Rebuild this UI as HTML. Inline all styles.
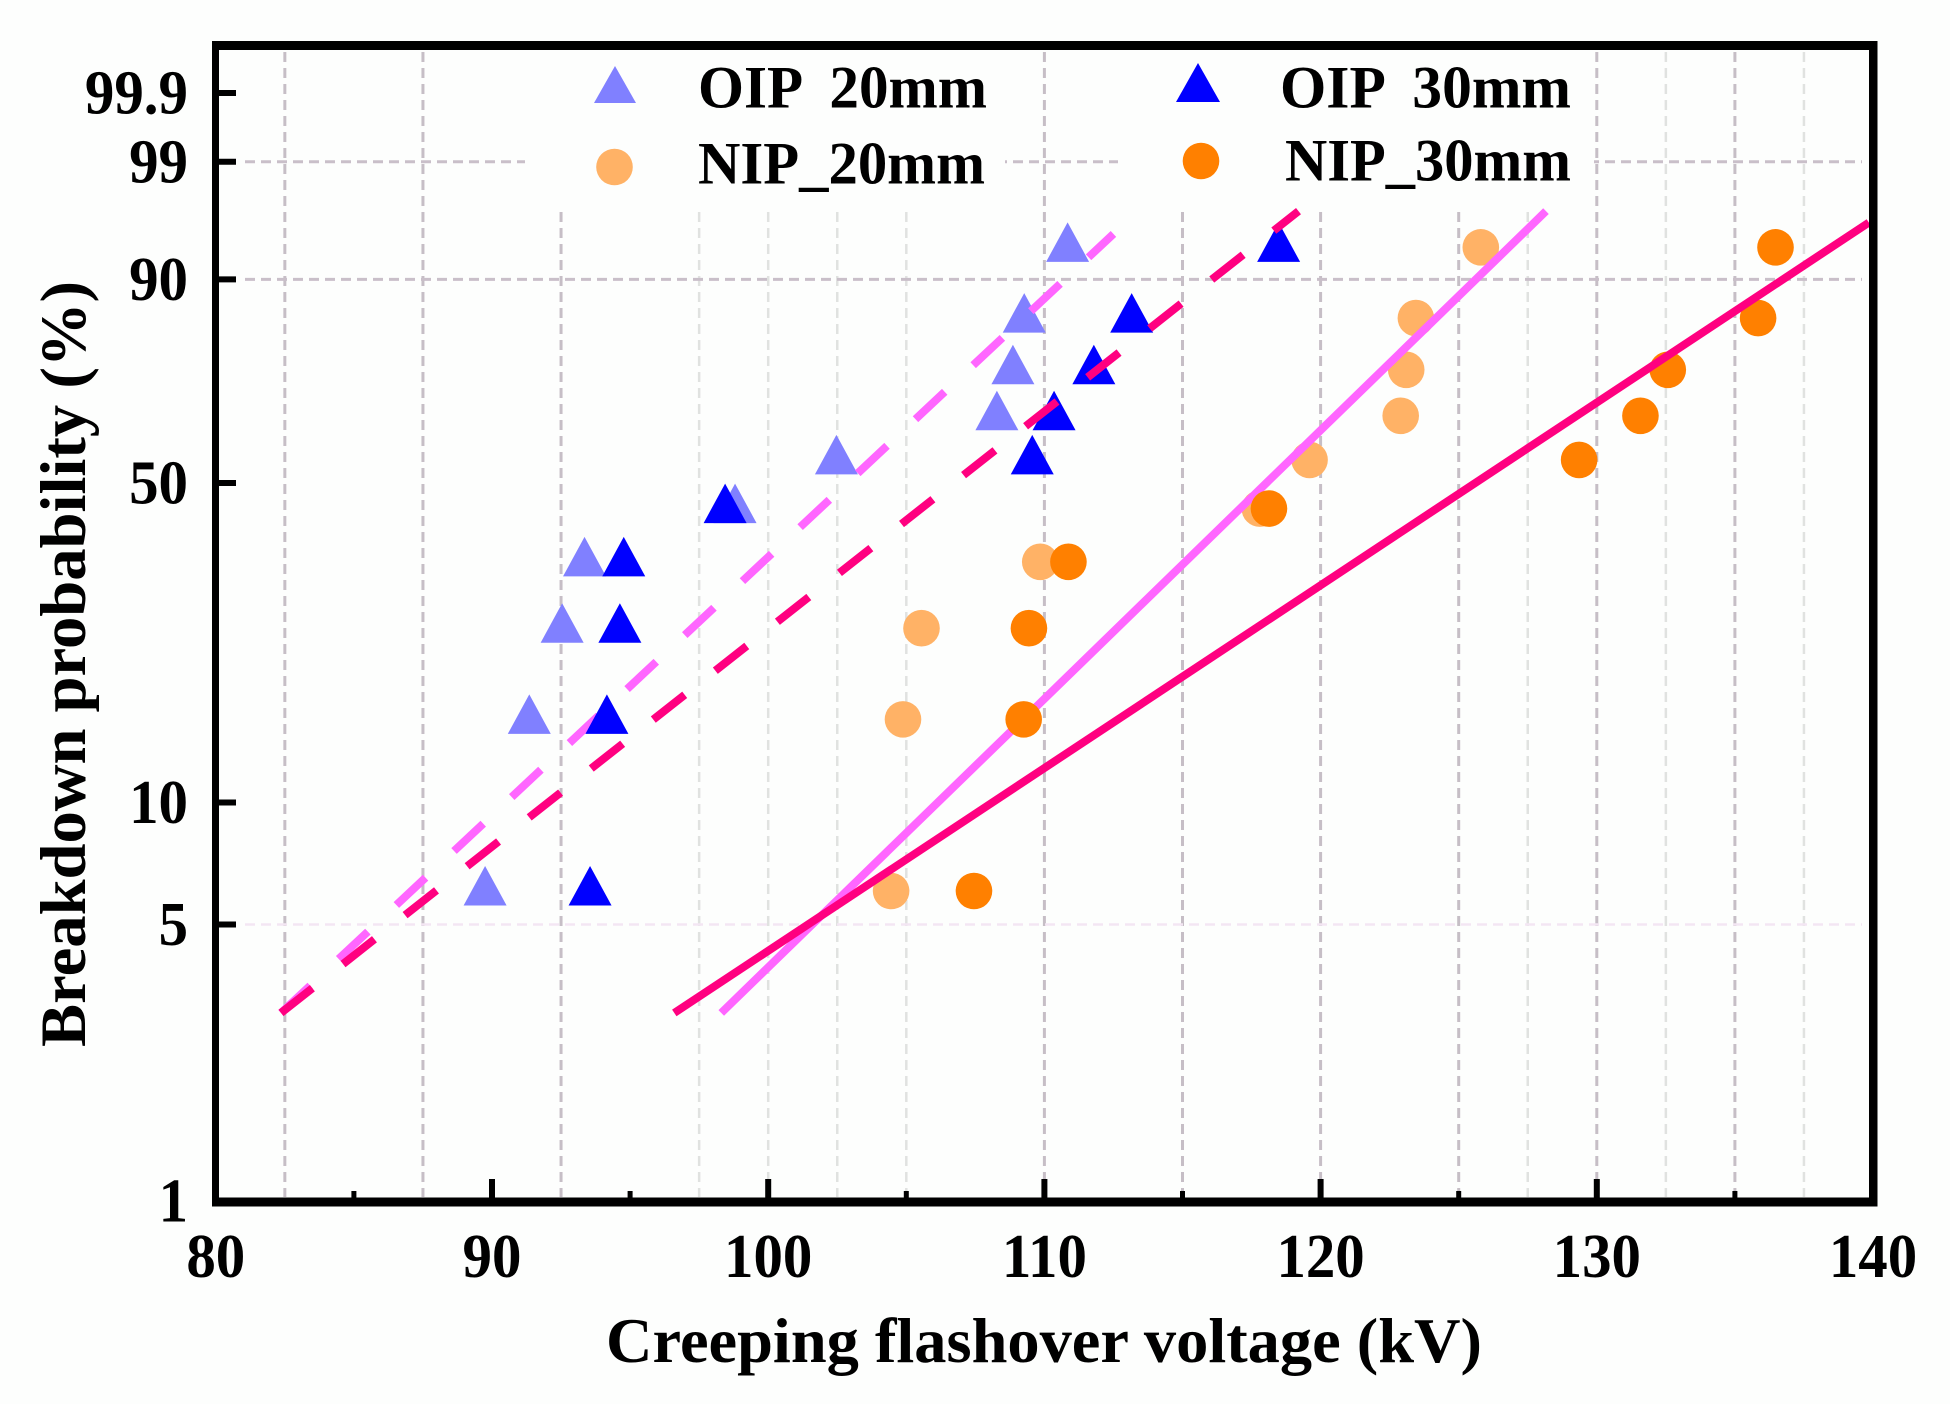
<!DOCTYPE html>
<html lang="en">
<head>
<meta charset="utf-8">
<title>Breakdown probability vs creeping flashover voltage</title>
<style>
html,body{margin:0;padding:0;background:#fdfefd;}
svg{display:block;}
text{font-family:"Liberation Serif",serif;font-weight:bold;fill:#000;}
</style>
</head>
<body>
<svg id="chart" xmlns="http://www.w3.org/2000/svg" width="1950" height="1404" viewBox="0 0 1950 1404">
  <rect x="0" y="0" width="1950" height="1404" fill="#fdfefd"/>
  <g id="grid"></g>
  <rect x="525" y="50" width="480" height="162" fill="#fdfefd"/>
  <rect x="1118" y="50" width="476" height="162" fill="#fdfefd"/>
  <g id="series"></g>
  <g id="axes"></g>
  <text x="606" y="1362" font-size="64" textLength="876" lengthAdjust="spacingAndGlyphs">Creeping flashover voltage (kV)</text>
  <text transform="translate(85,1047) rotate(-90)" x="0" y="0" font-size="65" textLength="766" lengthAdjust="spacingAndGlyphs">Breakdown probability (%)</text>
  <g>
    <g>
      <polygon points="615,66 594,103 636,103" fill="#8080ff"/>
      <text x="698" y="107.5" font-size="60" textLength="289" lengthAdjust="spacingAndGlyphs" xml:space="preserve">OIP  20mm</text>
    </g>
    <g>
      <circle cx="614.5" cy="167" r="18.3" fill="#ffb266"/>
      <text x="698" y="183.6" font-size="60" textLength="287" lengthAdjust="spacingAndGlyphs">NIP_20mm</text>
    </g>
    <g>
      <polygon points="1198,63 1176,102 1220,102" fill="#0000ff"/>
      <text x="1280" y="107.4" font-size="60" textLength="291" lengthAdjust="spacingAndGlyphs" xml:space="preserve">OIP  30mm</text>
    </g>
    <g>
      <circle cx="1201" cy="161" r="18.3" fill="#ff8000"/>
      <text x="1285" y="180.4" font-size="60" textLength="286" lengthAdjust="spacingAndGlyphs">NIP_30mm</text>
    </g>
  </g>
</svg>
<script>
// Axis tick values
const xMajorTicks = [80, 90, 100, 110, 120, 130, 140];
const xMinorTicks = [85, 95, 105, 115, 125, 135];
const yTicks = [1, 5, 10, 50, 90, 99, 99.9];
const yTickLabels = ["1", "5", "10", "50", "90", "99", "99.9"];

// Grid line values
const gridXStrong = [82.5, 87.5, 92.5, 110, 115, 120, 125, 130, 135];
const gridXFaint = [97.5, 100, 102.5, 105, 127.5, 132.5, 137.5];
const gridYStrong = [99, 90];
const gridYFaint = [5];

// Breakdown probability (%) shared by every sample series
const probabilities = [6.06, 15.8, 25.5, 35.3, 44.9, 54.8, 64.3, 74.1, 84.0, 93.8];

// Measured voltages (kV)
const oip20Voltages = [89.75, 91.35, 92.54, 93.35, 98.8, 102.47, 108.28, 108.86, 109.27, 110.84];
const oip30Voltages = [93.55, 94.16, 94.63, 94.77, 98.44, 109.56, 110.35, 111.79, 113.16, 118.48];
const nip20Voltages = [104.45, 104.88, 105.55, 109.85, 117.8, 119.6, 122.9, 123.1, 123.45, 125.8];
const nip30Voltages = [107.45, 109.25, 109.44, 110.87, 118.13, 129.36, 131.58, 132.57, 135.84, 136.47];

// Weibull fit lines: voltage and probability at each end
const oip20FitV = [82.36, 112.5];
const oip20FitP = [3.0, 95.07];
const oip30FitV = [82.36, 119.2];
const oip30FitP = [3.0, 96.8];
const nip20FitV = [98.3, 128.16];
const nip20FitP = [3.0, 96.8];
const nip30FitV = [96.6, 139.85];
const nip30FitP = [3.0, 96.0];

const SVG_NS = 'http://www.w3.org/2000/svg';

function xScale(v) {
  return 215.8 + (v - 80) * 27.62;
}
function yScale(p) {
  const w = Math.log(-Math.log(1 - p / 100));
  return 1201 - (w + 4.6002) * 169.6;
}
function make(parent, tag, props) {
  const el = document.createElementNS(SVG_NS, tag);
  for (const key in props) {
    el.setAttribute(key, props[key]);
  }
  parent.appendChild(el);
  return el;
}

const grid = document.getElementById('grid');
const series = document.getElementById('series');
const axes = document.getElementById('axes');

function drawGridV(v, color, width) {
  const el = make(grid, 'line', {x1: xScale(v), x2: xScale(v), y1: 52, y2: 1197, stroke: color, 'stroke-width': width, 'stroke-dasharray': '10 6'});
  
  
}
function drawGridH(p, color, width) {
  const el = make(grid, 'line', {x1: 245, x2: 1862, y1: yScale(p), y2: yScale(p), stroke: color, 'stroke-width': width, 'stroke-dasharray': '10 6'});
  
  
}
gridXStrong.forEach(v => drawGridV(v, '#c6bec6', 3));
gridXFaint.forEach(v => drawGridV(v, '#e0e2e0', 2.5));
gridYStrong.forEach(p => drawGridH(p, '#c9bfc9', 3));
gridYFaint.forEach(p => drawGridH(p, '#f3e6f3', 2.5));

function drawTriangles(values, probs, color, name) {
  values.forEach((v, i) => {
    const x = xScale(v);
    const y = yScale(probs[i]);
    const el = make(series, 'polygon', {points: x + ',' + (y - 25) + ' ' + (x - 21.5) + ',' + (y + 14.5) + ' ' + (x + 21.5) + ',' + (y + 14.5), fill: color});
    
    
  });
}
function drawCircles(values, probs, color, name) {
  values.forEach((v, i) => {
    const el = make(series, 'circle', {cx: xScale(v), cy: yScale(probs[i]), r: 18.3, fill: color});
    
    
  });
}
function drawFit(vs, ps, color, dashed, name) {
  const props = {x1: xScale(vs[0]), y1: yScale(ps[0]), x2: xScale(vs[1]), y2: yScale(ps[1]), stroke: color, 'stroke-width': 8};
  if (dashed) {
    props['stroke-dasharray'] = '40 39';
  }
  const el = make(series, 'line', props);
  
  
}

drawTriangles(oip20Voltages, probabilities, '#8080ff', 'oip-20mm-point');
drawFit(oip20FitV, oip20FitP, '#ff66ff', true, 'oip-20mm-fit-line');
drawCircles(nip20Voltages, probabilities, '#ffb266', 'nip-20mm-point');
drawFit(nip20FitV, nip20FitP, '#ff66ff', false, 'nip-20mm-fit-line');
drawTriangles(oip30Voltages, probabilities, '#0000ff', 'oip-30mm-point');
drawFit(oip30FitV, oip30FitP, '#ff0080', true, 'oip-30mm-fit-line');
drawCircles(nip30Voltages, probabilities, '#ff8000', 'nip-30mm-point');
drawFit(nip30FitV, nip30FitP, '#ff0080', false, 'nip-30mm-fit-line');

// Labels are slightly taller than wide in the source, so condense them a little
function condense(label) {
  const w = label.getComputedTextLength();
  label.setAttribute('textLength', (w * 0.95).toFixed(1));
  label.setAttribute('lengthAdjust', 'spacingAndGlyphs');
}

// Ticks and labels
xMajorTicks.forEach(v => {
  const t = make(axes, 'line', {x1: xScale(v), x2: xScale(v), y1: 1179, y2: 1198, stroke: '#000', 'stroke-width': 6});
  
  
  const l = make(axes, 'text', {x: xScale(v), y: 1277, 'font-size': 62, 'text-anchor': 'middle'});
  l.textContent = String(v);
  
  
  condense(l);
});
xMinorTicks.forEach(v => {
  const t = make(axes, 'line', {x1: xScale(v), x2: xScale(v), y1: 1191, y2: 1198, stroke: '#000', 'stroke-width': 5});
  
  
});
yTicks.forEach((p, i) => {
  const y = yScale(p);
  const t = make(axes, 'line', {x1: 218, x2: 236, y1: y, y2: y, stroke: '#000', 'stroke-width': 6});
  
  
  const l = make(axes, 'text', {x: 188, y: y + 20.5, 'font-size': 62, 'text-anchor': 'end'});
  l.textContent = yTickLabels[i];
  
  
  condense(l);
});

// Plot frame: four thick spines
const spineLeft = make(axes, 'rect', {x: 212, y: 41, width: 7, height: 1165.5, fill: '#000'});


const spineRight = make(axes, 'rect', {x: 1869, y: 41, width: 8.5, height: 1165.5, fill: '#000'});


const spineTop = make(axes, 'rect', {x: 212, y: 41, width: 1665.5, height: 9, fill: '#000'});


const spineBottom = make(axes, 'rect', {x: 212, y: 1197.5, width: 1665.5, height: 9, fill: '#000'});


</script>
</body>
</html>
